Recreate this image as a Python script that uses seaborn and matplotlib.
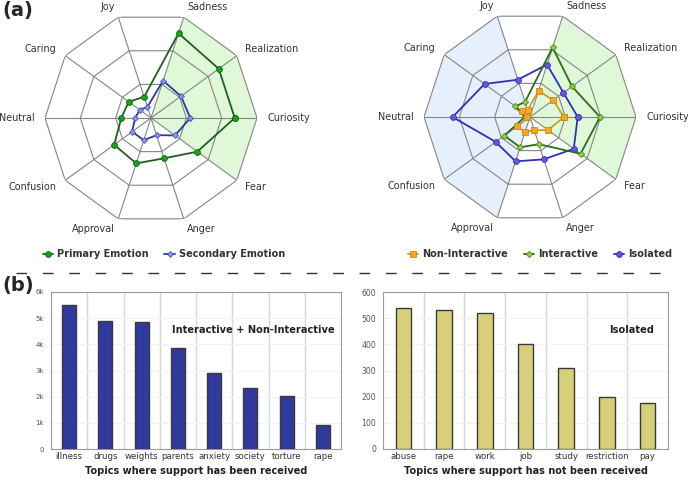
import numpy as np
import matplotlib
matplotlib.use("Agg")
import matplotlib.pyplot as plt
from matplotlib.lines import Line2D
import seaborn as sns

# emotions, counter-clockwise starting from the right (east) axis
emotions = ["Curiosity", "Realization", "Sadness", "Joy", "Caring",
            "Neutral", "Confusion", "Approval", "Anger", "Fear"]

primary = [0.79, 0.79, 0.84, 0.21, 0.26, 0.28, 0.43, 0.45, 0.40, 0.54]
secondary = [0.37, 0.35, 0.37, 0.11, 0.13, 0.15, 0.22, 0.22, 0.17, 0.28]

non_interactive = [0.32, 0.27, 0.26, 0.07, 0.09, 0.03, 0.15, 0.15, 0.13, 0.21]
interactive = [0.66, 0.49, 0.69, 0.15, 0.17, 0.05, 0.30, 0.30, 0.27, 0.59]
isolated = [0.45, 0.39, 0.52, 0.37, 0.53, 0.73, 0.40, 0.44, 0.42, 0.51]

received_topics = ["illness", "drugs", "weights", "parents", "anxiety",
                   "society", "torture", "rape"]
received_counts = [5500, 4900, 4850, 3850, 2900, 2320, 2020, 920]
received_ticks = [0, 1000, 2000, 3000, 4000, 5000, 6000]
received_ticklabels = ["0", "1k", "2k", "3k", "4k", "5k", "6k"]

isolated_topics = ["abuse", "rape", "work", "job", "study", "restriction", "pay"]
isolated_counts = [540, 533, 521, 400, 308, 198, 175]
isolated_ticks = [0, 100, 200, 300, 400, 500, 600]

sns.set_style("white")
plt.rcParams["font.family"] = ["DejaVu Sans"]

fig = plt.figure(figsize=(6.88, 4.8), dpi=100)

angles = np.deg2rad(np.arange(len(emotions)) * 36.0)
closed = np.append(angles, angles[0])
GRID = "#858585"


def radar_base(ax, sectors):
    ax.set_ylim(0, 1)
    ax.set_xticks([])
    ax.set_yticks([])
    ax.grid(False)
    ax.spines["polar"].set_visible(False)
    ax.set_facecolor("none")
    for idx, col in sectors:
        th = np.concatenate([[0], angles[idx]])
        rr = np.concatenate([[0], np.ones(len(idx))])
        ax.fill(th, rr, color=col, lw=0, zorder=0)
    for r in (1 / 3, 2 / 3, 1.0):
        ax.plot(closed, [r] * len(closed), color=GRID, lw=0.8, zorder=1)
    for a in angles:
        ax.plot([a, a], [0, 1], color=GRID, lw=0.8, zorder=1)
    for a, lab in zip(angles, emotions):
        c = np.cos(a)
        ha = "left" if c > 0.1 else ("right" if c < -0.1 else "center")
        ax.text(a, 1.1, lab, ha=ha, va="center", fontsize=6.9, color="#333333")


def radar_series(ax, vals, line, face, edge, marker, ms):
    v = np.append(vals, vals[0])
    ax.plot(closed, v, color=line, lw=1.3, marker=marker, ms=ms,
            mfc=face, mec=edge, mew=0.6, zorder=3, clip_on=False)


GREEN_BG = "#dff8d8"
BLUE_BG = "#e6f0fc"

# left radar
ax1 = fig.add_axes([45 / 688, 1 - 224 / 480, 212 / 688, 212 / 480], projection="polar")
radar_base(ax1, [([2, 1, 0, 9], GREEN_BG)])
styles_a = [
    ("Primary Emotion", primary, "#1f5f1f", "#17a317", "#0d6b0d", "o", 4.2),
    ("Secondary Emotion", secondary, "#2b3a9e", "#8c96e8", "#4a58c0", "D", 3.0),
]
for _, vals, line, face, edge, mk, ms in styles_a:
    radar_series(ax1, vals, line, face, edge, mk, ms)

# right radar
ax2 = fig.add_axes([424 / 688, 1 - 223 / 480, 212 / 688, 212 / 480], projection="polar")
radar_base(ax2, [([2, 1, 0, 9], GREEN_BG), ([3, 4, 5, 6, 7], BLUE_BG)])
styles_b = [
    ("Non-Interactive", non_interactive, "#c9a227", "#f5a623", "#c88a10", "s", 4.0),
    ("Interactive", interactive, "#2a6e18", "#8fd13f", "#4c8a1c", "D", 3.2),
    ("Isolated", isolated, "#2e30b8", "#6655e6", "#3a30b0", "o", 4.2),
]
for _, vals, line, face, edge, mk, ms in styles_b[::-1]:
    radar_series(ax2, vals, line, face, edge, mk, ms)


def make_legend(styles, x, ncol):
    handles = [Line2D([0], [0], color=s[2], lw=1.3, marker=s[5], ms=s[6],
                      mfc=s[3], mec=s[4], mew=0.6) for s in styles]
    fig.legend(handles, [s[0] for s in styles], loc="center",
               bbox_to_anchor=(x, 1 - 254 / 480), ncol=ncol, frameon=False,
               handlelength=1.1, handletextpad=0.4, columnspacing=1.6,
               prop={"weight": "bold", "size": 7}, labelcolor="#333333")


make_legend(styles_a, 164 / 688, 2)
make_legend(styles_b, 540 / 688, 3)

# dashed separator
fig.add_artist(Line2D([16 / 688, 668 / 688], [1 - 272.5 / 480] * 2,
                      transform=fig.transFigure, color="#333333", lw=1.0,
                      dashes=(7.7, 11.3)))

fig.text(0.003, 0.998, "(a)", fontsize=14, fontweight="bold", va="top", ha="left")
fig.text(0.003, 1 - 276 / 480, "(b)", fontsize=14, fontweight="bold", va="top", ha="left")


def bar_panel(rect, topics, counts, color, ticks, ticklabels, ytick_size, xlabel, note, note_x):
    ax = fig.add_axes(rect)
    sns.barplot(x=topics, y=counts, color=color, saturation=1, width=0.38,
                edgecolor="#3a3a3a", linewidth=1.0, ax=ax, zorder=3)
    ax.set_xlim(-0.5, len(topics) - 0.5)
    ax.set_ylim(ticks[0], ticks[-1])
    ax.set_yticks(ticks)
    ax.set_yticklabels(ticklabels)
    ax.set_xticks(np.arange(len(topics) - 1) + 0.5, minor=True)
    ax.grid(True, which="minor", axis="x", color="#d6d6d6", lw=1.0, zorder=0)
    ax.grid(True, which="major", axis="y", color="#f2f2f2", lw=0.8, zorder=0)
    ax.tick_params(axis="x", which="both", length=0, pad=2, labelsize=6.2, labelcolor="#333333")
    ax.tick_params(axis="y", length=0, pad=5, labelsize=ytick_size, labelcolor="#555555")
    for sp in ax.spines.values():
        sp.set_color("#9a9a9a")
        sp.set_linewidth(0.8)
    ax.set_xlabel(xlabel, fontsize=7, fontweight="bold", color="#222222", labelpad=4)
    ax.set_ylabel("")
    ax.text(note_x, 0.755, note, transform=ax.transAxes, ha="center", va="center",
            fontsize=7.1, fontweight="bold", color="#222222")
    return ax


bar_panel([51 / 688, 31 / 480, 290 / 688, 157 / 480], received_topics, received_counts,
          "#2f3a9c", received_ticks, received_ticklabels, 5,
          "Topics where support has been received", "Interactive + Non-Interactive", 0.697)
bar_panel([383 / 688, 31 / 480, 285 / 688, 157 / 480], isolated_topics, isolated_counts,
          "#d8cf7b", isolated_ticks, [str(t) for t in isolated_ticks], 5.6,
          "Topics where support has not been received", "Isolated", 0.872)

fig.savefig("out.png", dpi=100)
